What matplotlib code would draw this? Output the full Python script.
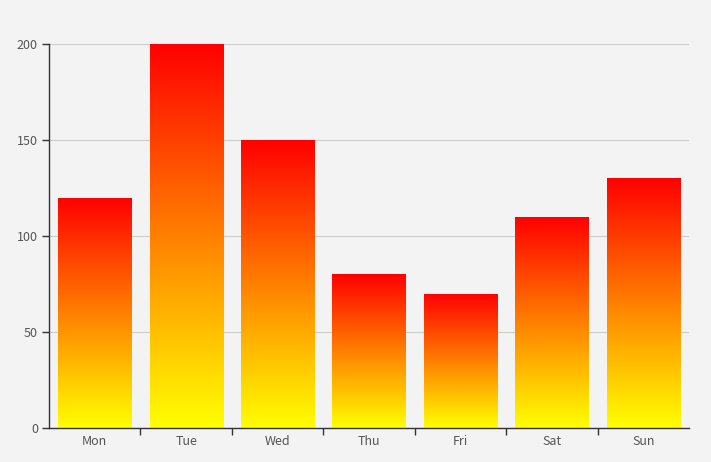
import numpy as np
import matplotlib.pyplot as plt
from matplotlib.colors import LinearSegmentedColormap

days = ['Mon', 'Tue', 'Wed', 'Thu', 'Fri', 'Sat', 'Sun']
values = [120, 200, 150, 80, 70, 110, 130]
y_ticks = [0, 50, 100, 150, 200]

plt.rcParams['font.family'] = ['Noto Sans CJK SC', 'DejaVu Sans']

bg = '#f3f3f3'
fig = plt.figure(figsize=(7.11, 4.62), dpi=100, facecolor=bg)
ax = fig.add_axes([49 / 711, 34 / 462, 640 / 711, 384 / 462], facecolor=bg)

x = np.arange(len(days))
bars = ax.bar(x, values, width=0.8, color='none', edgecolor='none', zorder=2)

# red (top) -> yellow (bottom) gradient, one per bar
cmap = LinearSegmentedColormap.from_list('ry', ['#ffff00', '#ff0000'])
grad = np.linspace(0, 1, 256).reshape(-1, 1)
for b in bars:
    x0, y0 = b.get_x(), b.get_y()
    w, h = b.get_width(), b.get_height()
    im = ax.imshow(grad, cmap=cmap, origin='lower', aspect='auto',
                   extent=[x0, x0 + w, y0, y0 + h], zorder=2)
    im.set_clip_path(b)

ax.set_xlim(-0.5, len(days) - 0.5)
ax.set_ylim(0, 200)

ax.set_yticks(y_ticks)
ax.yaxis.grid(True, color='#cccccc', linewidth=0.8, zorder=0)
ax.set_axisbelow(True)

ax.set_xticks(x)
ax.set_xticklabels(days)
ax.set_xticks(np.arange(0.5, len(days) - 1, 1), minor=True)
ax.tick_params(axis='x', which='major', length=0, pad=5, labelsize=9, labelcolor='#555555')
ax.tick_params(axis='x', which='minor', length=5, width=1, color='#333333')
ax.tick_params(axis='y', length=5, width=1, color='#333333', pad=3, labelsize=9, labelcolor='#555555')

for s in ['top', 'right']:
    ax.spines[s].set_visible(False)
for s in ['left', 'bottom']:
    ax.spines[s].set_color('#333333')
    ax.spines[s].set_linewidth(1)

fig.savefig('out.png', dpi=100, facecolor=bg)
